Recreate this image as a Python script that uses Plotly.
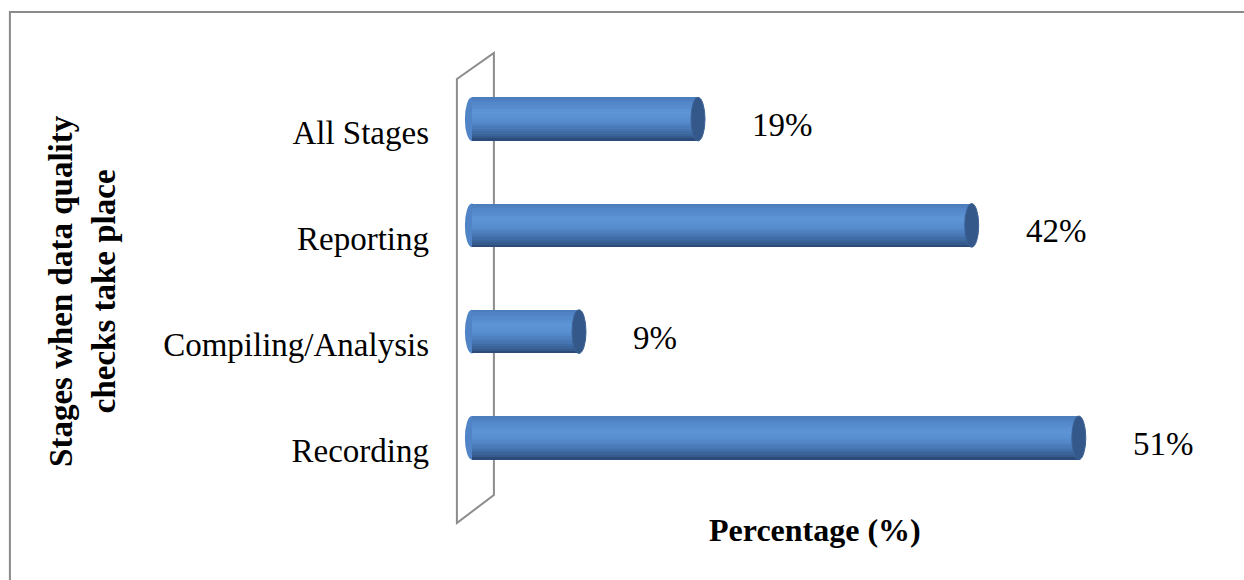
import plotly.graph_objects as go

# ---- data ----
categories = ["All Stages", "Reporting", "Compiling/Analysis", "Recording"]
values = [19, 42, 9, 51]
value_labels = ["19%", "42%", "9%", "51%"]
y_title = "Stages when data quality<br>checks take place"
x_title = "Percentage (%)"

# ---- layout geometry (pixels) ----
W_FIG, H_FIG = 1244, 580
X_MIN, X_MAX = -1, 59
PX_PER_UNIT = 11.9
PLOT_W = (X_MAX - X_MIN) * PX_PER_UNIT
M_L = 472 - (0 - X_MIN) * PX_PER_UNIT
M_T = 66
PLOT_H = 425
M_B = H_FIG - M_T - PLOT_H
M_R = W_FIG - M_L - PLOT_W

def px(xp):
    return (xp - M_L) / PLOT_W

def py(yp):
    return 1 - (yp - M_T) / PLOT_H

SERIF = "Times New Roman, Liberation Serif, serif"
BAR_W = 0.41
CAP_DX = 7 / PX_PER_UNIT

# vertical shading profile of the cylinders (top -> bottom)
shade_stops = [
    (0.00, (74, 122, 184)),
    (0.12, (82, 134, 200)),
    (0.35, (92, 149, 215)),
    (0.55, (86, 140, 206)),
    (0.75, (70, 116, 176)),
    (0.90, (55, 94, 148)),
    (1.00, (40, 68, 110)),
]

def shade(t):
    for (t0, c0), (t1, c1) in zip(shade_stops[:-1], shade_stops[1:]):
        if t0 <= t <= t1:
            f = (t - t0) / (t1 - t0) if t1 > t0 else 0
            c = [round(a + (b - a) * f) for a, b in zip(c0, c1)]
            return f"rgb({c[0]},{c[1]},{c[2]})"
    c = shade_stops[-1][1]
    return f"rgb({c[0]},{c[1]},{c[2]})"

fig = go.Figure()
N_BANDS = 18
band = BAR_W / N_BANDS
for i in range(N_BANDS):
    t = (i + 0.5) / N_BANDS
    last = i == N_BANDS - 1
    fig.add_trace(go.Bar(
        x=values, y=categories, orientation="h",
        width=band * (1.0 if last else 1.6), offset=-BAR_W / 2 + i * band,
        marker=dict(color=shade(t), line=dict(width=0)),
        showlegend=False, hoverinfo="skip",
    ))

shapes = []
# 3-D wall (decorative parallelogram behind the bars)
wall = [(457, 79), (494, 53), (494, 495), (457, 523)]
path = "M " + " L ".join(f"{px(a):.5f},{py(b):.5f}" for a, b in wall) + " Z"
shapes.append(dict(type="path", xref="paper", yref="paper", path=path,
                   line=dict(color="#8c8c8c", width=2), fillcolor="rgba(0,0,0,0)",
                   layer="below"))
# chart border
shapes.append(dict(type="rect", xref="paper", yref="paper",
                   x0=px(10), y0=py(12), x1=px(1300), y1=py(640),
                   line=dict(color="#8a8a8a", width=2), fillcolor="rgba(0,0,0,0)",
                   layer="below"))

for i, (c, v) in enumerate(zip(categories, values)):
    # rounded base of the cylinder
    shapes.append(dict(type="circle", xref="x", yref="y",
                       x0=-CAP_DX, x1=CAP_DX, y0=i - BAR_W / 2, y1=i + BAR_W / 2,
                       fillcolor="rgb(80,132,198)", line=dict(width=0), layer="below"))
    # end cap
    shapes.append(dict(type="circle", xref="x", yref="y",
                       x0=v - CAP_DX, x1=v + CAP_DX, y0=i - BAR_W / 2, y1=i + BAR_W / 2,
                       fillcolor="rgb(52,88,138)", line=dict(color="rgb(60,98,150)", width=1),
                       layer="above"))

annotations = []
for c, v, lab in zip(categories, values, value_labels):
    annotations.append(dict(x=v, y=c, xref="x", yref="y", text=lab, showarrow=False,
                            xanchor="left", yanchor="middle", xshift=52, yshift=-6,
                            font=dict(family=SERIF, size=33, color="black")))
annotations.append(dict(x=px(82), y=py(291), xref="paper", yref="paper", text=y_title,
                        showarrow=False, textangle=-90, xanchor="center", yanchor="middle",
                        font=dict(family=SERIF, size=33, color="black", weight="bold")))
annotations.append(dict(x=px(815), y=py(530), xref="paper", yref="paper", text=x_title,
                        showarrow=False, xanchor="center", yanchor="middle",
                        font=dict(family=SERIF, size=32, color="black", weight="bold")))

fig.update_layout(
    width=W_FIG, height=H_FIG,
    margin=dict(l=M_L, r=M_R, t=M_T, b=M_B, pad=0),
    paper_bgcolor="white", plot_bgcolor="white",
    barmode="overlay", bargap=0,
    shapes=shapes, annotations=annotations,
    xaxis=dict(range=[X_MIN, X_MAX], showgrid=False, zeroline=False,
               showticklabels=False, showline=False, ticks=""),
    yaxis=dict(type="category", categoryorder="array", categoryarray=categories,
               range=[3.5, -0.5], showgrid=False, zeroline=False, showline=False,
               ticks="", ticklabelstandoff=30, ticklabelshift=-13,
               tickfont=dict(family=SERIF, size=33, color="black")),
)

fig.write_html("out.html")
